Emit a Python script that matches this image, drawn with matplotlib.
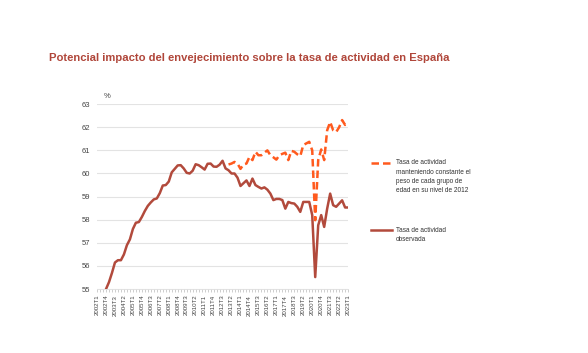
import numpy as np
from matplotlib import pyplot as plt
from matplotlib.lines import Line2D

plt.rcParams['font.family'] = ['Liberation Sans', 'DejaVu Sans']

# quarters from 2002T1 to 2023T1
quarters = [f"{y}T{q}" for y in range(2002, 2024) for q in range(1, 5)][:85]

observada = [54.3, 54.5, 54.7, 55.0, 55.3, 55.7, 56.15, 56.25, 56.25, 56.5,
             56.9, 57.15, 57.6, 57.87, 57.9, 58.12, 58.38, 58.6, 58.75, 58.88,
             58.92, 59.15, 59.48, 59.5, 59.65, 60.05, 60.2, 60.35, 60.36, 60.22,
             60.03, 60.0, 60.12, 60.4, 60.36, 60.27, 60.17, 60.42, 60.43, 60.3,
             60.29, 60.38, 60.55, 60.22, 60.14, 60.0, 60.0, 59.82, 59.46, 59.58,
             59.7, 59.46, 59.78, 59.5, 59.42, 59.35, 59.4, 59.3, 59.13, 58.85,
             58.9, 58.9, 58.85, 58.48, 58.77, 58.72, 58.7, 58.56, 58.34, 58.77,
             58.77, 58.77, 58.2, 55.52, 57.76, 58.2, 57.69, 58.48, 59.13, 58.63,
             58.56, 58.7, 58.84, 58.53, 58.53]

# constant 2012 age weights, from 2013T1
constante = [60.39, 60.43, 60.5, 60.43, 60.2, 60.39, 60.43, 60.72, 60.58, 60.94,
             60.79, 60.79, 60.9, 61.0, 60.79, 60.7, 60.6, 60.79, 60.85, 60.9,
             60.58, 60.98, 60.94, 60.83, 60.75, 61.23, 61.3, 61.37, 61.0, 57.98,
             60.58, 61.04, 60.58, 61.87, 62.23, 61.87, 61.79, 62.0, 62.31, 62.1,
             62.16]
start_const = quarters.index("2013T1")

lab_const = "Tasa de actividad\nmanteniendo constante el\npeso de cada grupo de\nedad en su nivel de 2012"
lab_obs = "Tasa de actividad\nobservada"

c_obs = '#b24a3c'
c_const = '#ff5a1e'
dash = (0, (3, 1.6))

W, H = 588, 353
fig = plt.figure(figsize=(W / 100, H / 100), dpi=100)
ax = fig.add_axes([0.165, 0.181, 0.427, 0.524])

x = np.arange(len(observada))
ax.plot(x, observada, color=c_obs, lw=1.8)
xc = np.arange(start_const, start_const + len(constante))
ax.plot(xc, constante, color=c_const, lw=1.8, ls=dash)

ax.set_xlim(0, len(quarters) - 1)
ax.set_ylim(55, 63)
ax.set_yticks(range(55, 64))
ax.set_xticks(x[::3])
ax.set_xticklabels(quarters[::3], rotation=90, fontsize=4.4, color='#444444')
ax.set_xticks(x, minor=True)
ax.tick_params(axis='x', which='both', length=2, color='#bbbbbb', width=0.5, pad=2)
ax.tick_params(axis='y', length=0, labelsize=5.5, labelcolor='#444444', pad=5)
ax.grid(axis='y', color='#e3e3e3', lw=0.8)
ax.set_axisbelow(True)
for s in ['top', 'right', 'left']:
    ax.spines[s].set_visible(False)
ax.spines['bottom'].set_color('#dddddd')
ax.spines['bottom'].set_linewidth(0.6)

fig.text(107 / W, 1 - 96 / H, "%", fontsize=5.5, color='#444444', ha='center', va='center')

fig.text(49 / W, 1 - 58 / H, "Potencial impacto del envejecimiento sobre la tasa de actividad en España",
         fontsize=8.1, color='#b0463a', fontweight='semibold', ha='left', va='center')

# legend drawn by hand next to the plot
for y0, col, ls, lab in [(163, c_const, dash, lab_const), (230, c_obs, '-', lab_obs)]:
    fig.add_artist(Line2D([371 / W, 392 / W], [1 - y0 / H] * 2, color=col, lw=1.8, ls=ls))
    fig.text(396 / W, 1 - (y0 - 3.5) / H, lab, fontsize=4.7, color='#333333',
             ha='left', va='top', linespacing=1.45)

fig.savefig("out.png", dpi=100)
